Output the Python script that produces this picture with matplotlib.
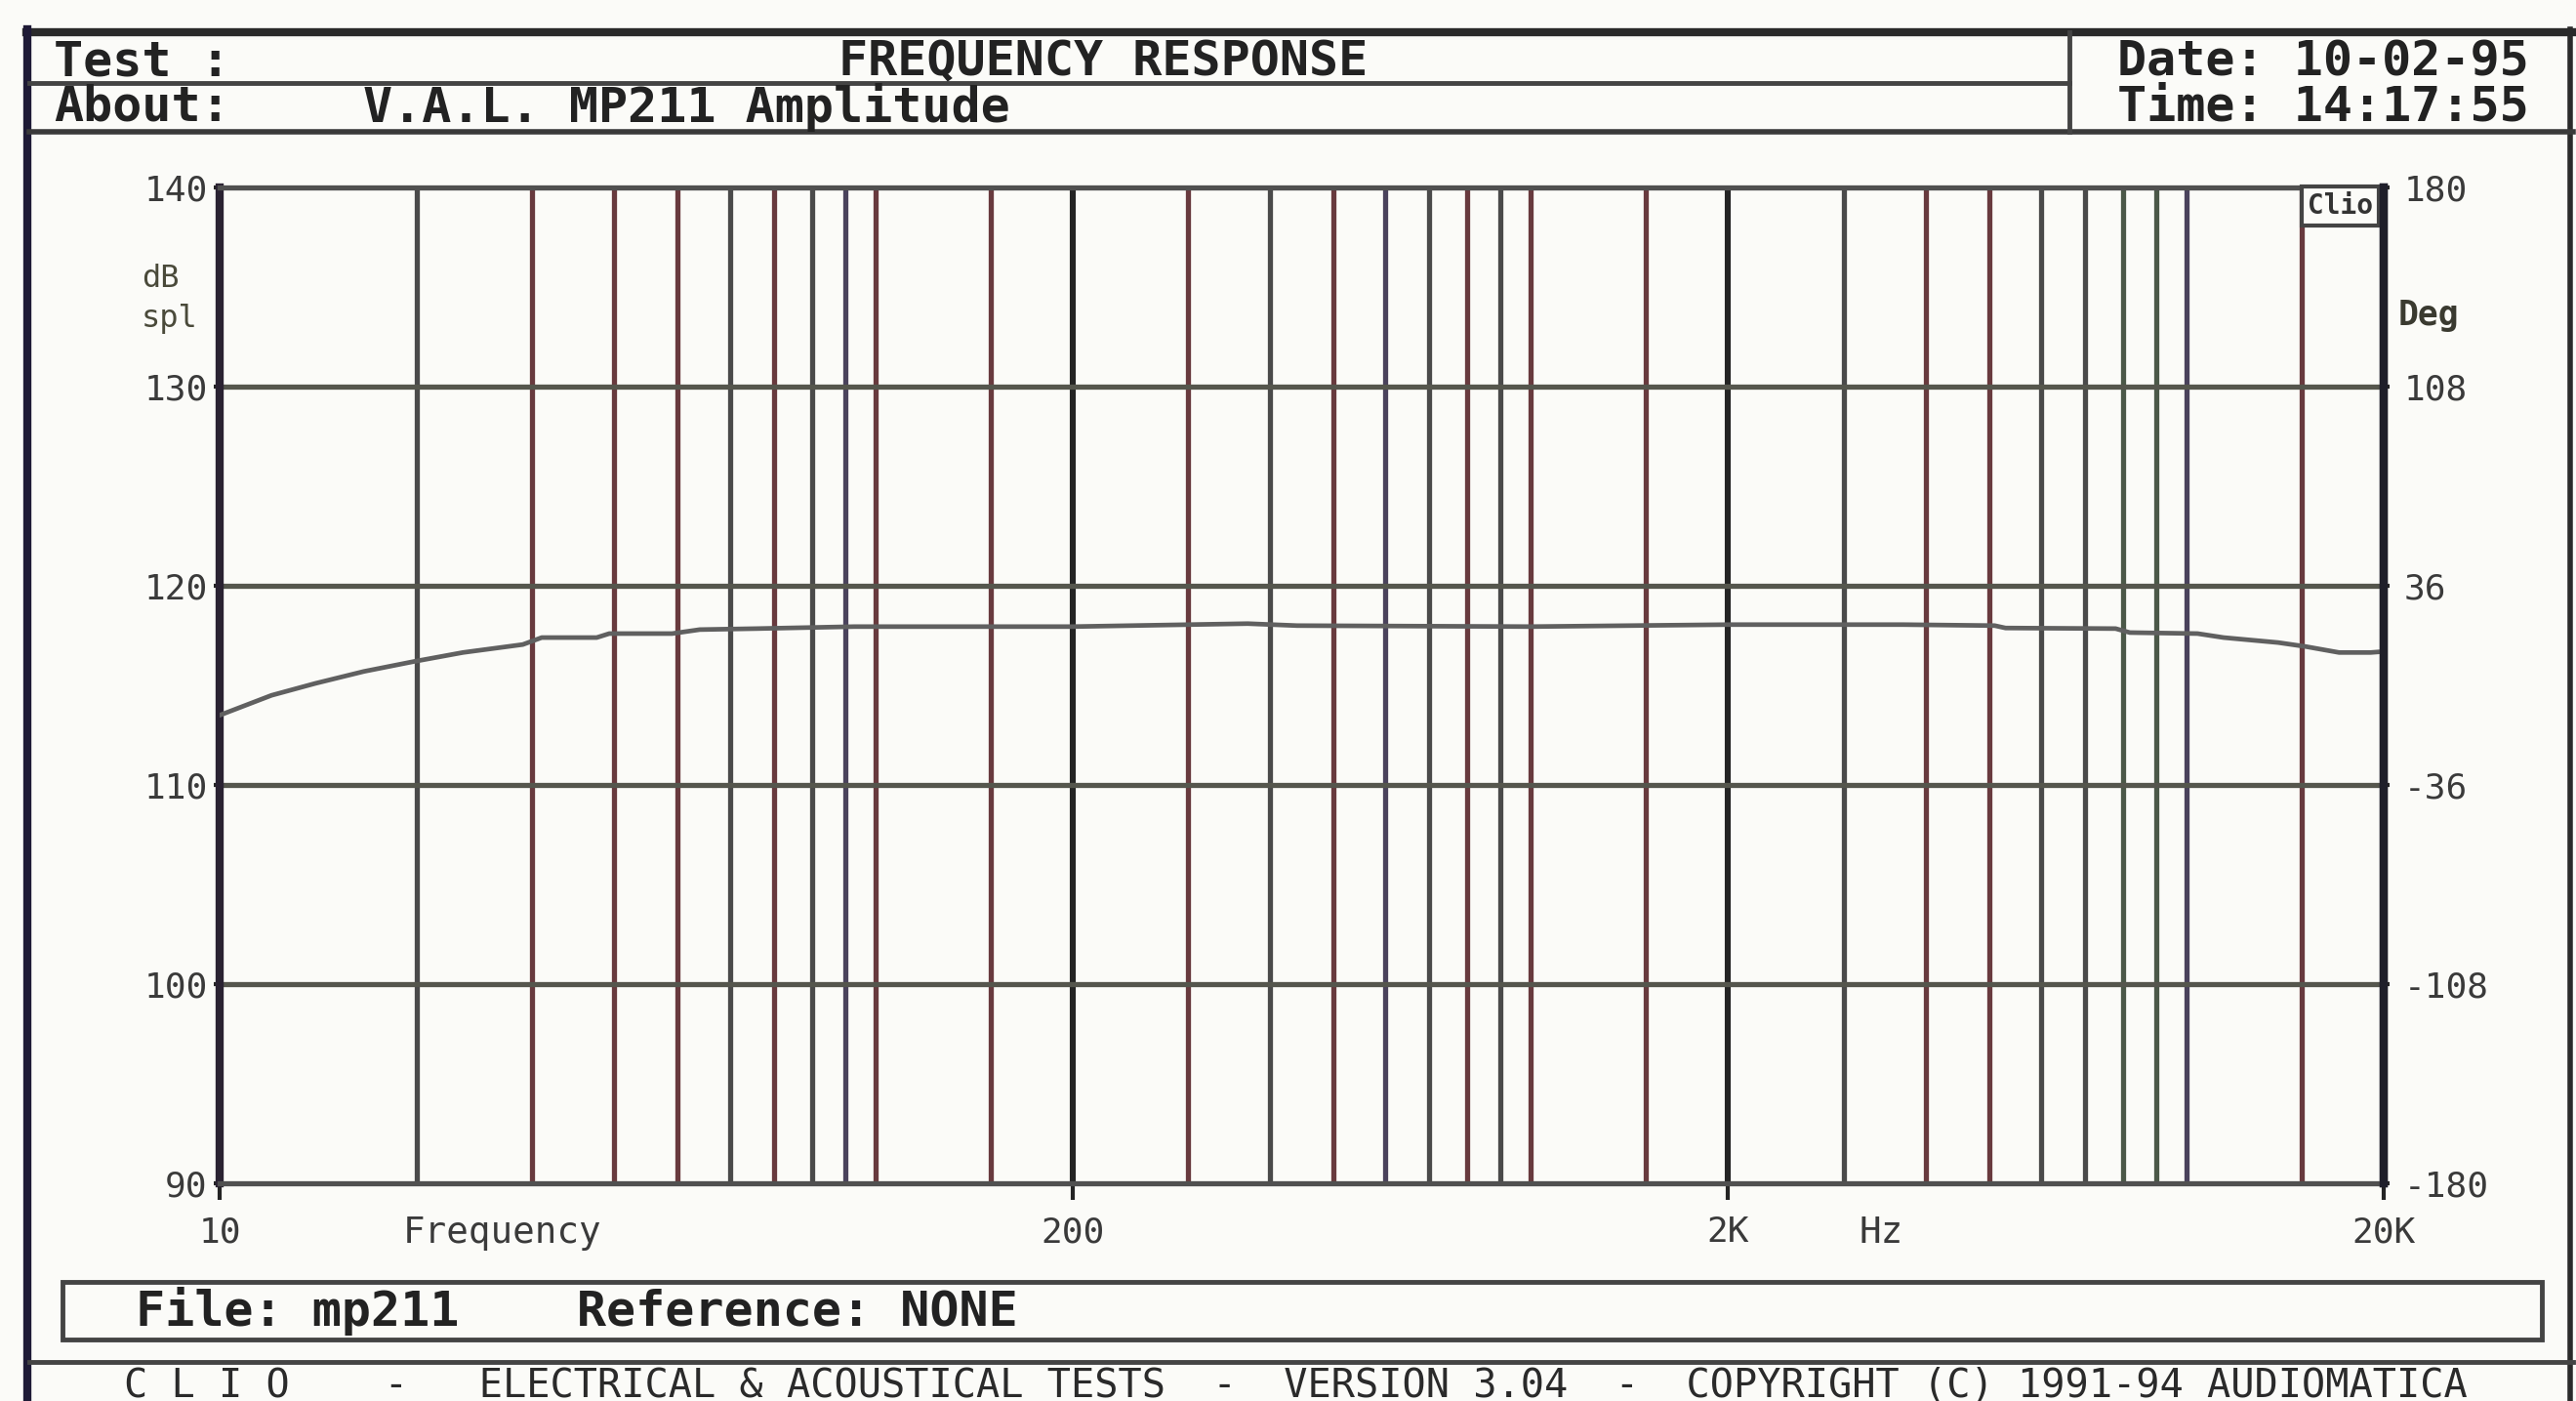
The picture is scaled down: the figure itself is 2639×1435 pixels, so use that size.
import matplotlib
matplotlib.use('Agg')
import matplotlib.pyplot as plt
import numpy as np
from matplotlib.lines import Line2D
from matplotlib.patches import Rectangle

plt.rcParams['axes.unicode_minus'] = False

freq = [10, 12, 14, 16.6, 19.8, 23.5, 29, 31, 37.6, 39.3, 49, 54, 66, 93,
        200, 370, 440, 1000, 2000, 3700, 5100, 5300, 7800, 8200, 10400,
        11400, 13800, 15200, 17100, 19100, 20000]
spl = [113.5, 114.5, 115.1, 115.7, 116.2, 116.65, 117.05, 117.4, 117.4,
       117.6, 117.6, 117.8, 117.85, 117.95, 117.95, 118.1, 118.0, 117.95,
       118.05, 118.05, 118.0, 117.88, 117.85, 117.65, 117.6, 117.4, 117.15,
       116.95, 116.65, 116.65, 116.7]

grid_freq = [20, 30, 40, 50, 60, 70, 80, 90, 100, 150, 200, 300, 400, 500,
             600, 700, 800, 900, 1000, 1500, 2000, 3000, 4000, 5000, 6000,
             7000, 8000, 9000, 10000, 15000]
db_ticks = [90, 100, 110, 120, 130, 140]
x_ticks = [10, 200, 2000, 20000]
x_labels = ['10', '200', '2K', '20K']
deg_ticks = [-180, -108, -36, 36, 108, 180]

# colours of the scanned grid lines (screen dump is a bit smeared)
GRAY = '#4a4a4a'
MAROON = '#683a3e'
PURPLE = '#4a425c'
GREEN = '#4b5848'
DARK = '#242424'
grid_colors = [GRAY, MAROON, MAROON, MAROON, GRAY, MAROON, GRAY, PURPLE,
               MAROON, MAROON, DARK, MAROON, GRAY, MAROON, PURPLE, GRAY,
               MAROON, GRAY, MAROON, MAROON, DARK, GRAY, MAROON, MAROON,
               GRAY, GRAY, GREEN, GREEN, PURPLE, MAROON]

W, H = 2639, 1435
def fx(px):
    return px / W
def fy(py):
    return 1 - py / H

MONO = 'DejaVu Sans Mono'
BG = '#fbfbf8'
INK = '#2a2a2a'

fig = plt.figure(figsize=(W / 100, H / 100), dpi=100, facecolor=BG)

ax = fig.add_axes([fx(225), fy(1212), fx(2442) - fx(225), fy(192) - fy(1212)])
ax.set_facecolor(BG)
ax.set_xscale('log')
ax.set_xlim(10, 20000)
ax.set_ylim(90, 140)

for f, c in zip(grid_freq, grid_colors):
    lw = 4.4 if c == DARK else 3.8
    ax.axvline(f, color=c, lw=lw, zorder=1)
for d in db_ticks[1:-1]:
    ax.axhline(d, color='#55564d', lw=3.8, zorder=1)

ax.plot(freq, spl, color='#606060', lw=3.4, zorder=3)

ax.set_xticks(x_ticks)
ax.set_xticklabels(x_labels)
ax.xaxis.set_minor_locator(matplotlib.ticker.NullLocator())
ax.set_yticks(db_ticks)
ax.tick_params(axis='x', direction='out', length=12, width=3, color=DARK,
               pad=12, labelsize=26, labelcolor='#3a3a3a')
ax.tick_params(axis='y', direction='out', length=4, width=3, color=DARK,
               pad=5, labelsize=26, labelcolor='#3a3a3a')
for lab in ax.get_xticklabels() + ax.get_yticklabels():
    lab.set_family(MONO)

for side in ['left', 'right']:
    ax.spines[side].set_linewidth(6)
    ax.spines[side].set_color('#2a2232')
for side in ['top', 'bottom']:
    ax.spines[side].set_linewidth(3.8)
    ax.spines[side].set_color('#505050')

ax2 = ax.twinx()
ax2.set_ylim(-180, 180)
ax2.set_yticks(deg_ticks)
ax2.tick_params(axis='y', direction='out', length=4, width=3, color=DARK,
                pad=11, labelsize=26, labelcolor='#3a3a3a')
for lab in ax2.get_yticklabels():
    lab.set_family(MONO)
for side in ['top', 'bottom', 'left']:
    ax2.spines[side].set_visible(False)
ax2.spines['right'].set_linewidth(6)
ax2.spines['right'].set_color('#1f1f2a')

ax.text(0.995, 0.995, 'Clio', transform=ax.transAxes, ha='right', va='top',
        fontsize=20, fontweight='bold', family=MONO, color='#333333', zorder=5,
        bbox=dict(boxstyle='square,pad=0.22', fc=BG, ec='#444444', lw=3))

# axis captions
fig.text(fx(145), fy(285), 'dB', ha='left', va='center', fontsize=23,
         family=MONO, color='#4a4a3a')
fig.text(fx(145), fy(326), 'spl', ha='left', va='center', fontsize=23,
         family=MONO, color='#4a4a3a')
fig.text(fx(2457), fy(323), 'Deg', ha='left', va='center', fontsize=25,
         family=MONO, fontweight='bold', color='#3a3a30')
fig.text(fx(515), fy(1263), 'Frequency', ha='center', va='center',
         fontsize=27, family=MONO, color='#3a3a3a')
fig.text(fx(1927), fy(1263), 'Hz', ha='center', va='center',
         fontsize=27, family=MONO, color='#3a3a3a')

# screen frame
def hline(y, x0, x1, lw, c=INK):
    fig.add_artist(Line2D([fx(x0), fx(x1)], [fy(y), fy(y)],
                          transform=fig.transFigure, color=c, lw=lw))
def vline(x, y0, y1, lw, c=INK):
    fig.add_artist(Line2D([fx(x), fx(x)], [fy(y0), fy(y1)],
                          transform=fig.transFigure, color=c, lw=lw))

hline(33, 27, 2636, 6)
vline(28, 30, 1435, 6, '#1e1a36')
vline(2633, 30, 1435, 4)
hline(85, 30, 2120, 3.5, '#444444')
hline(135, 30, 2636, 4, '#3a3a3a')
vline(2120, 33, 135, 3.5, '#444444')
fig.add_artist(Rectangle((fx(64), fy(1372)), fx(2604) - fx(64),
                         fy(1313) - fy(1372), transform=fig.transFigure,
                         fill=False, ec='#444444', lw=3.5))
hline(1395, 30, 2636, 3.5, '#444444')

# header
hdr = dict(fontsize=36, family=MONO, fontweight='bold', color='#222222',
           va='center')
fig.text(fx(55), fy(63), 'Test :', ha='left', **hdr)
fig.text(fx(1130), fy(63), 'FREQUENCY RESPONSE', ha='center', **hdr)
fig.text(fx(55), fy(110), 'About:', ha='left', **hdr)
fig.text(fx(703), fy(110), 'V.A.L. MP211 Amplitude', ha='center', **hdr)
fig.text(fx(2380), fy(63), 'Date: 10-02-95', ha='center', **hdr)
fig.text(fx(2380), fy(110), 'Time: 14:17:55', ha='center', **hdr)

fig.text(fx(591), fy(1343), 'File: mp211    Reference: NONE', ha='center',
         **hdr)
fig.text(fx(1327), fy(1419),
         'C L I O    -   ELECTRICAL & ACOUSTICAL TESTS  -  VERSION 3.04  -  '
         'COPYRIGHT (C) 1991-94 AUDIOMATICA',
         ha='center', va='center', fontsize=29, family=MONO, color='#2a2a2a')

fig.savefig('out.png', dpi=100, facecolor=BG)
